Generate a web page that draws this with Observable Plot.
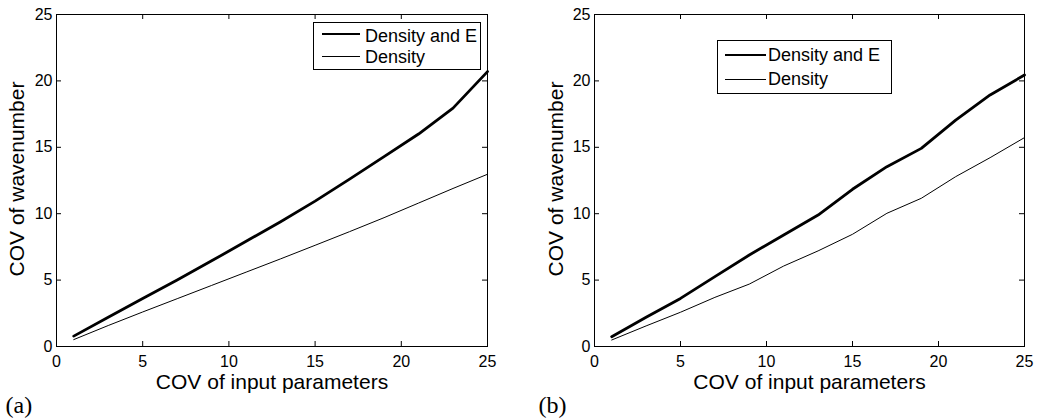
<!DOCTYPE html>
<html><head><meta charset="utf-8">
<script src="https://cdn.jsdelivr.net/npm/d3@7"></script>
<script src="https://cdn.jsdelivr.net/npm/@observablehq/plot@0.6"></script>
<style>
html,body{margin:0;padding:0;background:#fff;}
#wrap{position:relative;width:1045px;height:419px;overflow:hidden;font-family:"Liberation Sans",Arial,sans-serif;}
.panel{position:absolute;top:0;}
.box{position:absolute;border:1px solid #000;background:#fff;box-sizing:border-box;}
.sw{position:absolute;height:0;border-top-style:solid;border-top-color:#000;}
.lb{position:absolute;font-size:18px;line-height:1;white-space:nowrap;color:#000;}
</style></head><body><div id="wrap"></div>
<script>
// ---- data ----
const covInput = [1, 3, 5, 7, 9, 11, 13, 15, 17, 19, 21, 23, 25];
const xTicks = [0, 5, 10, 15, 20, 25];
const yTicks = [0, 5, 10, 15, 20, 25];
const seriesNames = ["Density and E", "Density"];
const aDensityE = [0.78, 2.2, 3.62, 5.0, 6.45, 7.92, 9.4, 10.95, 12.6, 14.3, 16.0, 17.95, 20.7];
const aDensity  = [0.52, 1.58, 2.6, 3.6, 4.6, 5.6, 6.6, 7.62, 8.65, 9.7, 10.8, 11.9, 12.97];
const bDensityE = [0.74, 2.2, 3.62, 5.26, 6.89, 8.4, 9.9, 11.84, 13.54, 14.92, 17.05, 18.94, 20.44];
const bDensity  = [0.49, 1.55, 2.58, 3.7, 4.7, 6.06, 7.2, 8.45, 10.03, 11.16, 12.79, 14.22, 15.73];
const xLabel = "COV of input parameters";
const yLabel = "COV of wavenumber";
const panelLabels = ["(a)", "(b)"];

// ---- layout ----
const H = 419;
const panels = [
  {label: panelLabels[0], e: aDensityE, d: aDensity, left: 0, width: 520, ml: 56, mr: 33, labelDx: -51, ylDx: -33,
   legend: {box: [313, 22, 168, 48], swX: [322, 360], swY: [34.3, 56.7], textX: 365, base: [41.7, 63.3]}},
  {label: panelLabels[1], e: bDensityE, d: bDensity, left: 520, width: 525, ml: 74, mr: 21, labelDx: -56, ylDx: -32,
   legend: {box: [717, 40, 175, 54], swX: [725, 765.5], swY: [55, 79.3], textX: 768, base: [61, 85.3]}}
];
const mt = 14, mb = 73;
const tickLen = 5;
const wrap = document.getElementById("wrap");

for (const p of panels) {
  const innerW = p.width - p.ml - p.mr;
  const innerH = H - mt - mb;
  const rows = [];
  covInput.forEach((x, i) => {
    rows.push({x, y: p.e[i], s: seriesNames[0]});
    rows.push({x, y: p.d[i], s: seriesNames[1]});
  });
  const chart = Plot.plot({
    width: p.width, height: H,
    marginLeft: p.ml, marginRight: p.mr, marginTop: mt, marginBottom: mb,
    style: {fontFamily: '"Liberation Sans", Arial, sans-serif', background: "#fff", color: "#000", overflow: "visible"},
    x: {domain: [0, 25]},
    y: {domain: [0, 25]},
    marks: [
      Plot.lineY(rows.filter(r => r.s === seriesNames[1]), {x: "x", y: "y", stroke: "#000", strokeWidth: 1}),
      Plot.lineY(rows.filter(r => r.s === seriesNames[0]), {x: "x", y: "y", stroke: "#000", strokeWidth: 2.8}),
      // inward ticks on all four sides
      Plot.tickX(xTicks, {x: d => d, insetTop: innerH - tickLen, stroke: "#000"}),
      Plot.tickX(xTicks, {x: d => d, insetBottom: innerH - tickLen, stroke: "#000"}),
      Plot.tickY(yTicks, {y: d => d, insetRight: innerW - tickLen, stroke: "#000"}),
      Plot.tickY(yTicks, {y: d => d, insetLeft: innerW - tickLen, stroke: "#000"}),
      Plot.frame({stroke: "#000"}),
      Plot.axisX({ticks: xTicks, tickSize: 0, tickPadding: 9, fontSize: 16, label: null, tickFormat: d => String(d)}),
      Plot.axisY({ticks: yTicks, tickSize: 0, tickPadding: 4, fontSize: 16, label: null, tickFormat: d => String(d)}),
      Plot.text([xLabel], {text: d => d, frameAnchor: "bottom", textAnchor: "middle", lineAnchor: "bottom", dy: 42, fontSize: 21, fill: "#000"}),
      Plot.text([yLabel], {text: d => d, frameAnchor: "left", textAnchor: "middle", rotate: -90, lineAnchor: "bottom", dx: p.ylDx, dy: -1.5, fontSize: 21, fill: "#000"}),
      Plot.text([p.label], {text: d => d, frameAnchor: "bottom-left", textAnchor: "start", lineAnchor: "bottom", dx: p.labelDx, dy: 66,
        fontFamily: '"Liberation Serif", "Times New Roman", serif', fontSize: 24, fill: "#000"})
    ]
  });
  chart.classList.add("panel");
  chart.style.left = p.left + "px";
  wrap.appendChild(chart);

  // legend overlay
  const L = p.legend;
  const box = document.createElement("div");
  box.className = "box";
  Object.assign(box.style, {left: L.box[0] + "px", top: L.box[1] + "px", width: L.box[2] + "px", height: L.box[3] + "px"});
  wrap.appendChild(box);
  const widths = [2.8, 1];
  seriesNames.forEach((name, i) => {
    const sw = document.createElement("div");
    sw.className = "sw";
    Object.assign(sw.style, {left: L.swX[0] + "px", width: (L.swX[1] - L.swX[0]) + "px",
      top: (L.swY[i] - widths[i] / 2) + "px", borderTopWidth: widths[i] + "px"});
    wrap.appendChild(sw);
    const lb = document.createElement("div");
    lb.className = "lb";
    lb.textContent = name;
    Object.assign(lb.style, {left: L.textX + "px", top: (L.base[i] - 15.2) + "px"});
    wrap.appendChild(lb);
  });
}
</script></body></html>
